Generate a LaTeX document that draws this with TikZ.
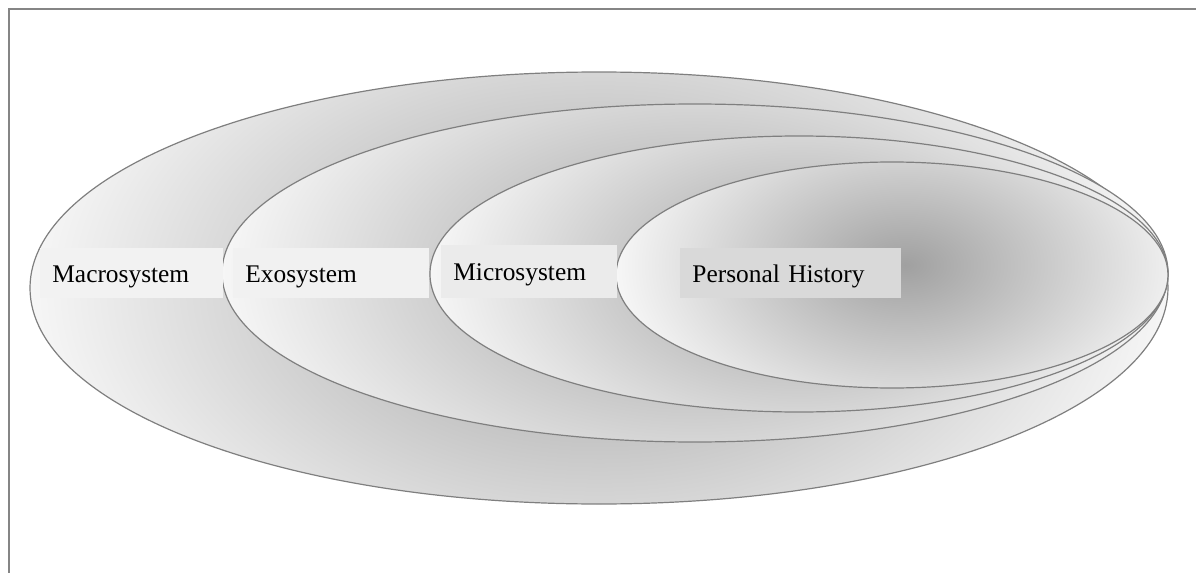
\documentclass[tikz,border=0pt]{standalone}
\usepackage{fontspec}
\setmainfont{Liberation Serif}
\definecolor{ringline}{HTML}{7F7F7F}
\definecolor{frameline}{HTML}{858585}
\definecolor{shadein}{HTML}{A0A0A0}
\definecolor{shadeout}{HTML}{F6F6F6}
\definecolor{macrotag}{HTML}{F2F2F2}
\definecolor{exotag}{HTML}{F1F1F1}
\definecolor{microtag}{HTML}{EBEBEB}
\definecolor{persontag}{HTML}{D9D9D9}
\begin{document}
\begin{tikzpicture}[x=0.5pt,y=-0.5pt,
    ring/.style={draw=ringline, line width=0.6pt},
    ringshade/.style={inner color=shadein, outer color=shadeout},
    tag/.style={anchor=west, inner xsep=6pt, inner ysep=0pt, minimum height=25pt,
        text height=10pt, text depth=1pt, align=left,
        font=\fontsize{12.7}{15}\selectfont}]
    \useasboundingbox (0,0) rectangle (1196,573);
    \clip (0,0) rectangle (1196,573);
    % outer frame, only its left and top edges are on the page
    \draw[frameline, line width=1.3pt] (9,600) -- (9,9) -- (1220,9);
    % macrosystem ring
    \begin{scope}
        \clip (599,288) ellipse [x radius=569, y radius=216];
        \shade[ringshade] (599,288) ellipse [x radius=569, y radius=346];
    \end{scope}
    \draw[ring] (599,288) ellipse [x radius=569, y radius=216];
    % exosystem ring
    \begin{scope}
        \clip (695,273) ellipse [x radius=473, y radius=169];
        \shade[ringshade] (695,273) ellipse [x radius=473, y radius=270];
    \end{scope}
    \draw[ring] (695,273) ellipse [x radius=473, y radius=169];
    % microsystem ring
    \begin{scope}
        \clip (799,274) ellipse [x radius=369, y radius=138];
        \shade[ringshade] (799,274) ellipse [x radius=369, y radius=221];
    \end{scope}
    \draw[ring] (799,274) ellipse [x radius=369, y radius=138];
    % personal history, the inner ring
    \begin{scope}
        \clip (892,275) ellipse [x radius=276, y radius=113];
        \shade[ringshade] (905,265) ellipse [x radius=289, y radius=181];
    \end{scope}
    \draw[ring] (892,275) ellipse [x radius=276, y radius=113];
    % labels
    \node[tag, fill=macrotag, text width=79.5pt] (macro) at (40,273) {Macrosystem};
    \node[tag, fill=exotag, text width=86pt] (exo) at (233,273) {Exosystem};
    \node[tag, fill=microtag, text width=76pt, minimum height=26.5pt] (micro) at (441,271.5) {Microsystem};
    \node[tag, fill=persontag, text width=98.5pt] (person) at (680,273) {Personal History};
\end{tikzpicture}
\end{document}
